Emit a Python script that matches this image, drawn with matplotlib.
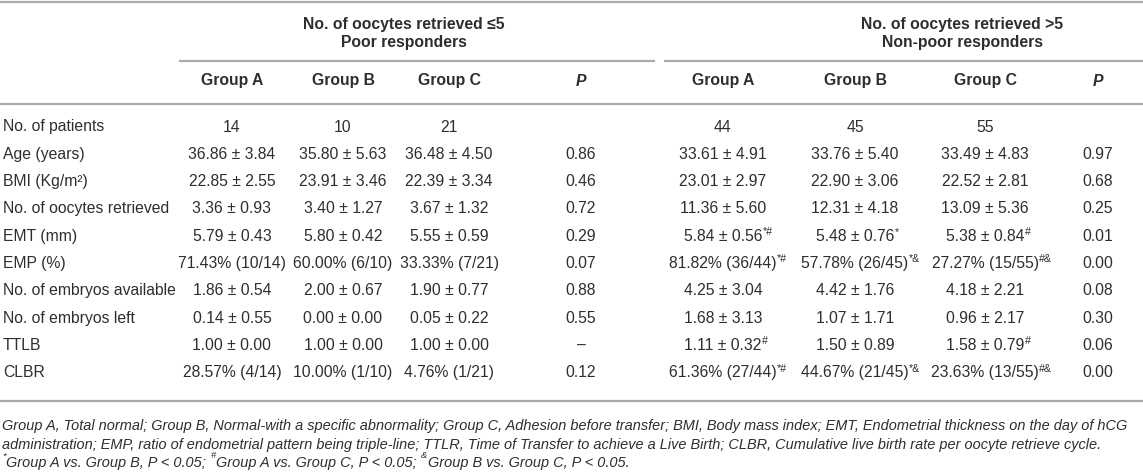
import matplotlib

matplotlib.use("Agg")
import matplotlib.pyplot as plt  # noqa: E402

# ---- table content -------------------------------------------------------
ROW_LABELS = [
    "No. of patients", "Age (years)", "BMI (Kg/m²)", "No. of oocytes retrieved",
    "EMT (mm)", "EMP (%)", "No. of embryos available", "No. of embryos left",
    "TTLB", "CLBR",
]
GROUP_HEADERS = ["Group A", "Group B", "Group C"]
BLOCK_TITLES = [
    ("No. of oocytes retrieved ≤5", "Poor responders"),
    ("No. of oocytes retrieved >5", "Non-poor responders"),
]

POOR_A = ["14", "36.86 ± 3.84", "22.85 ± 2.55", "3.36 ± 0.93", "5.79 ± 0.43",
          "71.43% (10/14)", "1.86 ± 0.54", "0.14 ± 0.55", "1.00 ± 0.00", "28.57% (4/14)"]
POOR_B = ["10", "35.80 ± 5.63", "23.91 ± 3.46", "3.40 ± 1.27", "5.80 ± 0.42",
          "60.00% (6/10)", "2.00 ± 0.67", "0.00 ± 0.00", "1.00 ± 0.00", "10.00% (1/10)"]
POOR_C = ["21", "36.48 ± 4.50", "22.39 ± 3.34", "3.67 ± 1.32", "5.55 ± 0.59",
          "33.33% (7/21)", "1.90 ± 0.77", "0.05 ± 0.22", "1.00 ± 0.00", "4.76% (1/21)"]
POOR_P = ["", "0.86", "0.46", "0.72", "0.29", "0.07", "0.88", "0.55", "–", "0.12"]

NON_A = ["44", "33.61 ± 4.91", "23.01 ± 2.97", "11.36 ± 5.60", "5.84 ± 0.56",
         "81.82% (36/44)", "4.25 ± 3.04", "1.68 ± 3.13", "1.11 ± 0.32", "61.36% (27/44)"]
NON_B = ["45", "33.76 ± 5.40", "22.90 ± 3.06", "12.31 ± 4.18", "5.48 ± 0.76",
         "57.78% (26/45)", "4.42 ± 1.76", "1.07 ± 1.71", "1.50 ± 0.89", "44.67% (21/45)"]
NON_C = ["55", "33.49 ± 4.83", "22.52 ± 2.81", "13.09 ± 5.36", "5.38 ± 0.84",
         "27.27% (15/55)", "4.18 ± 2.21", "0.96 ± 2.17", "1.58 ± 0.79", "23.63% (13/55)"]
NON_P = ["", "0.97", "0.68", "0.25", "0.01", "0.00", "0.08", "0.30", "0.06", "0.00"]

NON_A_SUP = ["", "", "", "", "*#", "*#", "", "", "#", "*#"]
NON_B_SUP = ["", "", "", "", "*", "*&", "", "", "", "*&"]
NON_C_SUP = ["", "", "", "", "#", "#&", "", "", "#", "#&"]

FOOT_1 = ("Group A, Total normal; Group B, Normal-with a specific abnormality; "
          "Group C, Adhesion before transfer; BMI, Body mass index; EMT, Endometrial "
          "thickness on the day of hCG")
FOOT_2 = ("administration; EMP, ratio of endometrial pattern being triple-line; "
          "TTLR, Time of Transfer to achieve a Live Birth; CLBR, Cumulative live "
          "birth rate per oocyte retrieve cycle.")
FOOT_3 = [("*", True), ("Group A vs. Group B, P < 0.05; ", False),
          ("#", True), ("Group A vs. Group C, P < 0.05; ", False),
          ("&", True), ("Group B vs. Group C, P < 0.05.", False)]

# ---- layout (pixel coordinates, y downwards) ------------------------------
W, H = 1143, 476
POOR_X = [232, 343, 449, 581]
NON_X = [723, 855, 985, 1098]
TITLE_X = [404, 962]
ROW_Y0, ROW_DY = 127, 27.3
TXT = "#2e2e2e"
LINE = "#a9a9a9"
FS = 11.3

plt.rcParams["font.family"] = ["Liberation Sans", "DejaVu Sans"]

fig = plt.figure(figsize=(W / 100, H / 100), dpi=100)
ax = fig.add_axes([0, 0, 1, 1])
ax.set_xlim(0, W)
ax.set_ylim(H, 0)
ax.axis("off")
renderer = fig.canvas.get_renderer()


def hline(x0, x1, y):
    ax.plot([x0, x1], [y, y], color=LINE, lw=1.6, solid_capstyle="butt")


def data_box(t):
    return t.get_window_extent(renderer).transformed(ax.transData.inverted())


def add_sup(t, s, size):
    bb = data_box(t)
    ax.text(bb.xmax + 0.5, bb.ymin - 1.5, s, fontsize=size, color=TXT, ha="left",
            va="top")


# rules
hline(0, W, 2)
hline(179, 655, 61)
hline(664, W, 61)
hline(0, W, 104)
hline(0, W, 401)

# block titles and column headers
for cx, (l1, l2) in zip(TITLE_X, BLOCK_TITLES):
    ax.text(cx, 25, l1, ha="center", va="center", fontsize=FS, fontweight="bold", color=TXT)
    ax.text(cx, 43, l2, ha="center", va="center", fontsize=FS, fontweight="bold", color=TXT)
for xs in (POOR_X, NON_X):
    for x, g in zip(xs[:3], GROUP_HEADERS):
        ax.text(x, 81, g, ha="center", va="center", fontsize=FS, fontweight="bold", color=TXT)
    ax.text(xs[3], 81, "P", ha="center", va="center", fontsize=FS, fontweight="bold",
            fontstyle="italic", color=TXT)

# body
cols = [(POOR_X[0], POOR_A, None), (POOR_X[1], POOR_B, None), (POOR_X[2], POOR_C, None),
        (POOR_X[3], POOR_P, None), (NON_X[0], NON_A, NON_A_SUP),
        (NON_X[1], NON_B, NON_B_SUP), (NON_X[2], NON_C, NON_C_SUP), (NON_X[3], NON_P, None)]
for i, lab in enumerate(ROW_LABELS):
    y = ROW_Y0 + i * ROW_DY
    ax.text(3, y, lab, ha="left", va="center", fontsize=FS, color=TXT)
    for x, vals, sups in cols:
        t = ax.text(x, y, vals[i], ha="center", va="center", fontsize=FS, color=TXT)
        if sups and sups[i]:
            add_sup(t, sups[i], FS * 0.68)

# footnotes, sized to fill the first line's width
foot_fam = ["Liberation Sans Narrow", "Liberation Sans", "DejaVu Sans"]
t1 = ax.text(2, 426, FOOT_1, ha="left", va="center", fontsize=10, fontstyle="italic",
             family=foot_fam, color=TXT)
w1 = t1.get_window_extent(renderer).width
fs_foot = 10 * 1126 / w1
t1.set_fontsize(fs_foot)
ax.text(2, 444.5, FOOT_2, ha="left", va="center", fontsize=fs_foot, fontstyle="italic",
        family=foot_fam, color=TXT)
x = 2
for piece, sup in FOOT_3:
    if sup:
        t = ax.text(x, 456, piece, ha="left", va="center", fontsize=fs_foot * 0.65,
                    fontstyle="italic", family=foot_fam, color=TXT)
    else:
        t = ax.text(x, 463, piece, ha="left", va="center", fontsize=fs_foot,
                    fontstyle="italic", family=foot_fam, color=TXT)
    x = data_box(t).xmax + 0.5

fig.savefig("out.png", dpi=100)
